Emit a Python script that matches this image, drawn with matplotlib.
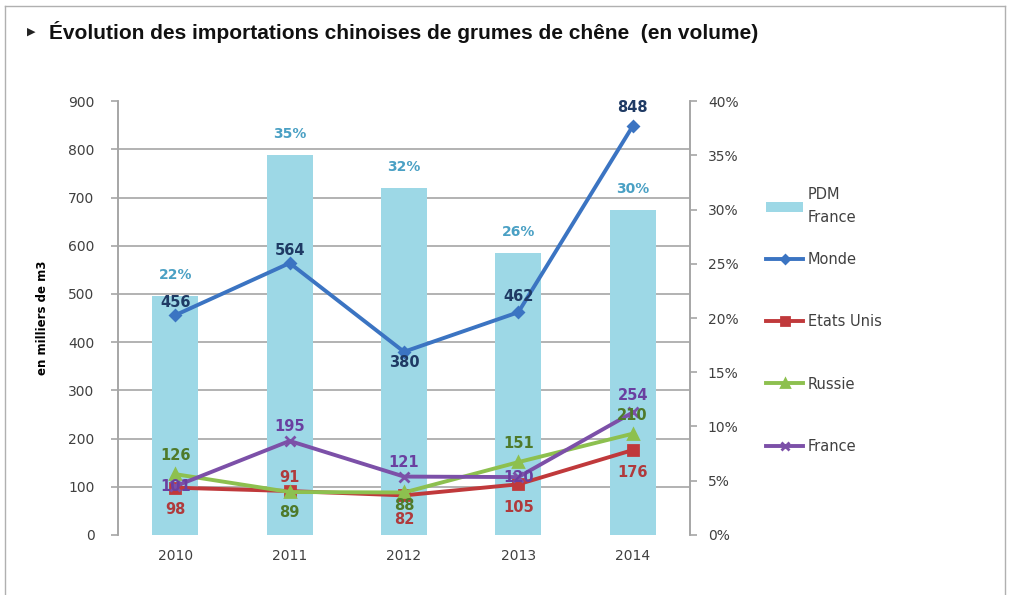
import numpy as np
import matplotlib
matplotlib.use('Agg')
import matplotlib.pyplot as plt
from matplotlib.lines import Line2D
from matplotlib.patches import Patch

# data
years = ['2010', '2011', '2012', '2013', '2014']
pdm_france = [22, 35, 32, 26, 30]          # % (right axis)
monde = [456, 564, 380, 462, 848]
etats_unis = [98, 91, 82, 105, 176]
russie = [126, 89, 88, 151, 210]
france = [101, 195, 121, 120, 254]

# label offsets in points (dx, dy)
off_monde = [(0, 4), (0, 4), (0, -2), (0, 6), (0, 8)]
off_us = [(0, -10), (0, 4), (0, -12), (0, -11), (0, -11)]
off_ru = [(0, 8), (0, -9), (0, -4), (0, 8), (0, 8)]
off_fr = [(0, 0), (0, 5), (0, 5), (0, 0), (0, 7)]

C_BAR = '#9dd8e6'
C_MONDE = '#3b74c2'
C_US = '#c0393b'
C_RU = '#8dc04f'
C_FR = '#7c50a8'
GRID = '#a6a6a6'
TXT = '#404040'

fig = plt.figure(figsize=(10.1, 5.95), dpi=100)

# outer frame
for xs, ys in [([0.005, 0.995], [0.99, 0.99]), ([0.005, 0.005], [0.0, 0.99]),
               ([0.995, 0.995], [0.0, 0.99])]:
    fig.add_artist(Line2D(xs, ys, color='#b0b0b0', lw=1))

fig.text(0.027, 0.946, '\u25B6', fontsize=8, ha='left', va='center',
         color='#222222', family=['DejaVu Sans'])
fig.text(0.049, 0.946, 'Évolution des importations chinoises de grumes de chêne  (en volume)',
         fontsize=15, fontweight='bold', ha='left', va='center', color='#111111',
         family=['Liberation Sans', 'DejaVu Sans'])

ax = fig.add_axes([0.117, 0.101, 0.566, 0.729])
axp = ax.twinx()
ax.set_zorder(2)
axp.set_zorder(1)
ax.patch.set_visible(False)

x = np.arange(len(years))

# bars on percent axis
axp.bar(x, pdm_france, width=0.4, color=C_BAR, zorder=2)
axp.set_ylim(0, 40)
axp.set_yticks(np.arange(0, 41, 5))
axp.set_yticklabels([f'{v}%' for v in range(0, 41, 5)])
for xi, v in zip(x, pdm_france):
    axp.annotate(f'{v}%', (xi, v), xytext=(0, 10), textcoords='offset points',
                 ha='center', va='bottom', fontsize=10, color='#4aa0c4',
                 fontweight='bold')

# grid lines at the left-axis ticks, drawn behind bars
axp.set_yticks(np.arange(0, 901, 100) * 40 / 900, minor=True)
axp.yaxis.grid(True, which='minor', color=GRID, lw=1.2)
axp.set_axisbelow(True)
axp.tick_params(axis='y', which='minor', length=0)

# lines on left axis
series = [
    (monde, C_MONDE, 'D', 5, 'Monde', off_monde, '#1f3a64'),
    (etats_unis, C_US, 's', 7, 'Etats Unis', off_us, '#b03a3c'),
    (russie, C_RU, '^', 7, 'Russie', off_ru, '#4f7a2a'),
    (france, C_FR, 'x', 7, 'France', off_fr, '#6a3fa0'),
]
for vals, col, mk, ms, name, offs, lc in series:
    ax.plot(x, vals, color=col, lw=2.8, marker=mk, ms=ms, mew=2, label=name)
for vals, col, mk, ms, name, offs, lc in series:
    for xi, v, (dx, dy) in zip(x, vals, offs):
        ax.annotate(str(v), (xi, v), xytext=(dx, dy), textcoords='offset points',
                    ha='center', va='center' if dy == 0 else ('bottom' if dy > 0 else 'top'),
                    fontsize=10.5, color=lc, fontweight='bold')

ax.set_xlim(-0.5, 4.5)
ax.set_ylim(0, 900)
ax.set_yticks(np.arange(0, 901, 100))
ax.set_xticks(x)
ax.set_xticklabels(years)
ax.set_ylabel('en milliers de m3', fontsize=8.5, fontweight='bold', labelpad=14)

for a in (ax, axp):
    for s in ['top', 'bottom']:
        a.spines[s].set_visible(False)
    a.spines['left'].set_color(GRID)
    a.spines['right'].set_color(GRID)
    a.spines['left'].set_linewidth(1.2)
    a.spines['right'].set_linewidth(1.2)
    a.tick_params(axis='both', which='major', colors=GRID, labelcolor=TXT,
                  labelsize=10, length=5, width=1.2)
ax.tick_params(axis='x', length=0, pad=10)
ax.tick_params(axis='y', pad=12)
axp.tick_params(axis='y', pad=8)

# legend: bar entry, then the four lines
leg1 = fig.legend([Patch(facecolor=C_BAR, edgecolor='none')], ['PDM\nFrance'],
                  loc='upper left', bbox_to_anchor=(0.745, 0.708), frameon=False,
                  fontsize=10.5, handlelength=2.6, handletextpad=0.3,
                  labelcolor=TXT)
for t in leg1.get_texts():
    t.set_linespacing(1.7)
handles = [Line2D([0], [0], color=c, lw=2.8, marker=m, ms=ms - 1, mew=2)
           for _, c, m, ms, _, _, _ in series]
labels = [s[4] for s in series]
fig.legend(handles, labels, loc='upper left', bbox_to_anchor=(0.745, 0.599),
           frameon=False, fontsize=10.5, labelspacing=3.25, handlelength=2.6,
           handletextpad=0.3, labelcolor=TXT)

fig.savefig('out.png', dpi=100)
